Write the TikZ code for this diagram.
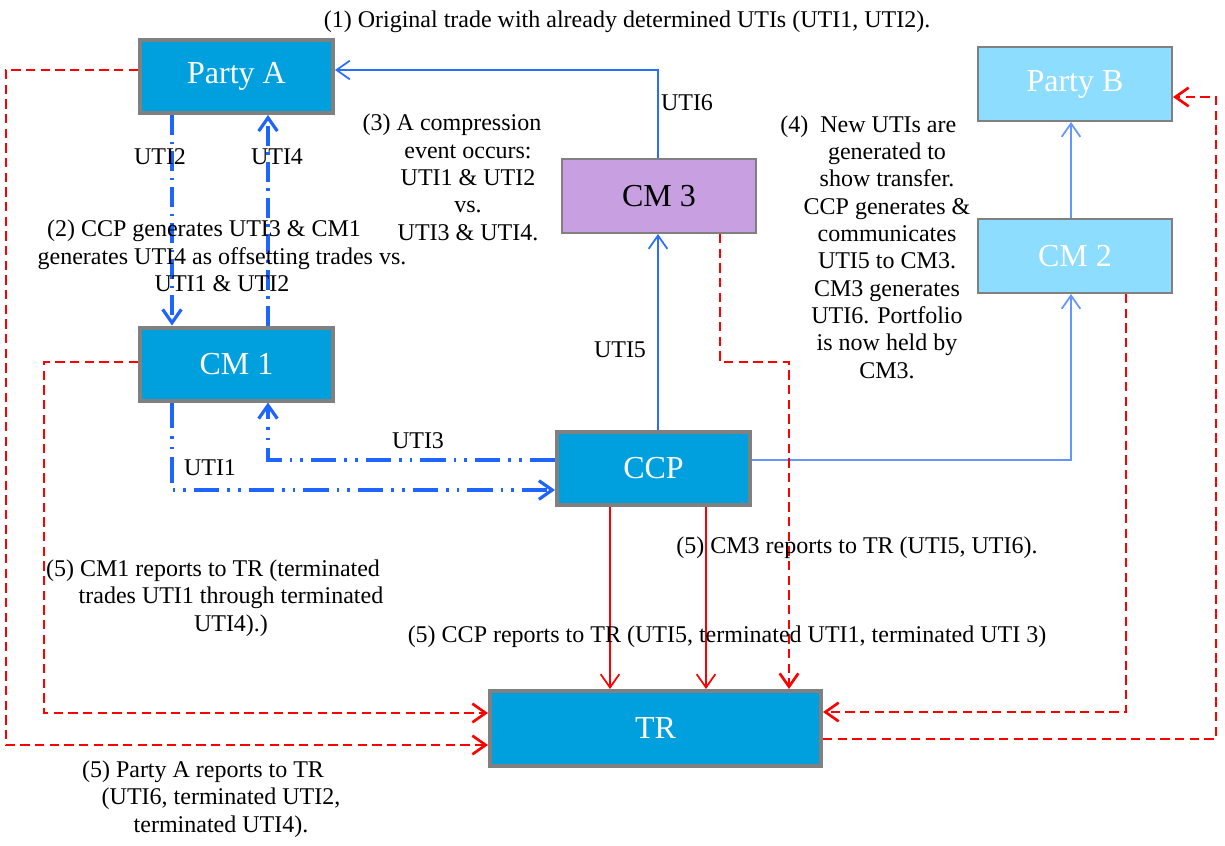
\documentclass[tikz,border=0pt]{standalone}
\usepackage{fontspec}
\setmainfont{Liberation Serif}
\usetikzlibrary{arrows.meta}

\tikzset{every picture/.style={line width=0.75pt}}
\tikzset{
  darkbox/.style={draw={rgb, 255:red, 128; green, 128; blue, 128 }, line width=3pt, fill={rgb, 255:red, 0; green, 160; blue, 222 }, text=white, font=\fontsize{24}{28}\selectfont, inner sep=0pt, minimum width=144.75pt, minimum height=54.75pt},
  purplebox/.style={draw={rgb, 255:red, 128; green, 128; blue, 128 }, line width=1.3pt, fill={rgb, 255:red, 200; green, 160; blue, 226 }, font=\fontsize{24}{28}\selectfont, inner sep=0pt, minimum width=145.7pt, minimum height=55.7pt},
  lightbox/.style={purplebox, fill={rgb, 255:red, 140; green, 221; blue, 255 }, text=white},
  note/.style={font=\fontsize{18}{20.5}\selectfont, align=center, inner sep=0pt},
  dotlink/.style={draw={rgb, 255:red, 30; green, 100; blue, 255 }, line width=2.4pt, dash pattern={on 15pt off 5pt on 2pt off 5pt}, ->},
  dotdotlink/.style={dotlink, dash pattern={on 19pt off 6pt on 2pt off 6pt on 2pt off 6pt}},
  bluelink/.style={draw={rgb, 255:red, 40; green, 110; blue, 255 }, line width=1.3pt, ->},
  palelink/.style={draw={rgb, 255:red, 100; green, 150; blue, 255 }, line width=1.3pt, ->},
  report/.style={draw={rgb, 255:red, 255; green, 0; blue, 0 }, line width=1.3pt, ->},
  dashreport/.style={report, line width=2pt, dash pattern={on 7pt off 4pt}}
}

\begin{document}
\begin{tikzpicture}[x=0.75pt,y=0.75pt,yscale=-1,xscale=1,>={Straight Barb[length=10pt,width=14pt]}]
	\useasboundingbox (0,0) rectangle (1225,846);

	%Shape: Boxes
	\node [darkbox] (partyA) at (236.5,76.5) {Party A};
	\node [darkbox] (cm1) at (236.5,364) {CM 1};
	\node [darkbox] (ccp) at (653.5,468.5) {CCP};
	\node [darkbox, minimum width=248.25pt, minimum height=56.25pt] (tr) at (655.5,728.5) {TR};
	\node [purplebox] (cm3) at (659,196) {CM 3};
	\node [lightbox] (partyB) at (1075,84) {Party B};
	\node [lightbox] (cm2) at (1075,256) {CM 2};

	%Bend points
	\coordinate (kA) at (658,70);
	\coordinate (kL) at (172,490);
	\coordinate (kR) at (268,460);
	\coordinate (k2) at (1071,460);
	\coordinate (r1) at (610,600);
	\coordinate (r2) at (706,600);
	\coordinate (k3a) at (720,362);
	\coordinate (k3b) at (789,362);
	\coordinate (k4) at (1126,712);
	\coordinate (k6a) at (1216,739);
	\coordinate (k6b) at (1216,97);
	\coordinate (k7a) at (6,70);
	\coordinate (k7b) at (6,745);
	\coordinate (k8a) at (44,362);
	\coordinate (k8b) at (44,713);

	%Blue links
	\draw [bluelink] (cm3.north -| kA) -- (kA) -- (partyA.east |- kA);
	\draw [dotlink] (partyA.south -| kL) -- (cm1.north -| kL);
	\draw [dotlink] (cm1.north -| kR) -- (partyA.south -| kR);
	\draw [dotdotlink] (cm1.south -| kL) -- (kL) -- (ccp.west |- kL);
	\draw [dotdotlink] (ccp.west |- kR) -- (kR) -- (cm1.south -| kR);
	\draw [bluelink] (ccp.north -| kA) -- (cm3.south -| kA);
	\draw [palelink] (ccp.east |- k2) -- (k2) -- (cm2.south -| k2);
	\draw [palelink] (cm2.north -| k2) -- (partyB.south -| k2);

	%Red reports
	\draw [report] (ccp.south -| r1) -- (tr.north -| r1);
	\draw [report] (ccp.south -| r2) -- (tr.north -| r2);
	\draw [dashreport] (cm3.south -| k3a) -- (k3a) -- (k3b) -- (tr.north -| k3b);
	\draw [dashreport] (cm2.south -| k4) -- (k4) -- (tr.east |- k4);
	\draw [dashreport] (tr.east |- k6a) -- (k6a) -- (k6b) -- (partyB.east |- k6b);
	\draw [dashreport] (partyA.west |- k7a) -- (k7a) -- (k7b) -- (tr.west |- k7b);
	\draw [dashreport] (cm1.west |- k8a) -- (k8a) -- (k8b) -- (tr.west |- k8b);

	% Text Node
	\node [note] (step1) at (627,22) {(1) Original trade with already determined UTIs (UTI1, UTI2).};
	% Text Node
	\node [note] (step2) at (222,256) {(2) CCP generates UTI3 \& CM1\hspace*{27pt}\\generates UTI4 as offsetting trades vs.\\UTI1 \& UTI2};
	% Text Node
	\node [note] (step3) at (468,177.5) {(3) A compression\hspace*{24pt}\\event occurs:\\UTI1 \& UTI2\\vs.\\UTI3 \& UTI4.};
	% Text Node
	\node [note] (step4) at (887,247) {(4)\ \ New UTIs are\hspace*{28pt}\\generated to\\show transfer.\\CCP generates \&\\communicates\\UTI5 to CM3.\\CM3 generates\\UTI6. Portfolio\\is now held by\\CM3.};
	% Text Node
	\node [note] (rep1) at (231,598) {(5) CM1 reports to TR (terminated\hspace*{27pt}\\trades UTI1 through terminated\\UTI4).)};
	% Text Node
	\node [note] (repA) at (221,799) {(5) Party A reports to TR\hspace*{27pt}\\(UTI6, terminated UTI2,\\terminated UTI4).};
	% Text Node
	\node [note] (rep3) at (857,548) {(5) CM3 reports to TR (UTI5, UTI6).};
	% Text Node
	\node [note] (repC) at (727,637) {(5) CCP reports to TR (UTI5, terminated UTI1, terminated UTI 3)};

	% UTI labels
	\node [note] (uti6) at (687,103) {UTI6};
	\node [note] (uti2) at (160,157) {UTI2};
	\node [note] (uti4) at (277,157) {UTI4};
	\node [note] (uti3) at (418,441) {UTI3};
	\node [note] (uti1) at (210,468) {UTI1};
	\node [note] (uti5) at (620,350) {UTI5};

\end{tikzpicture}
\end{document}
